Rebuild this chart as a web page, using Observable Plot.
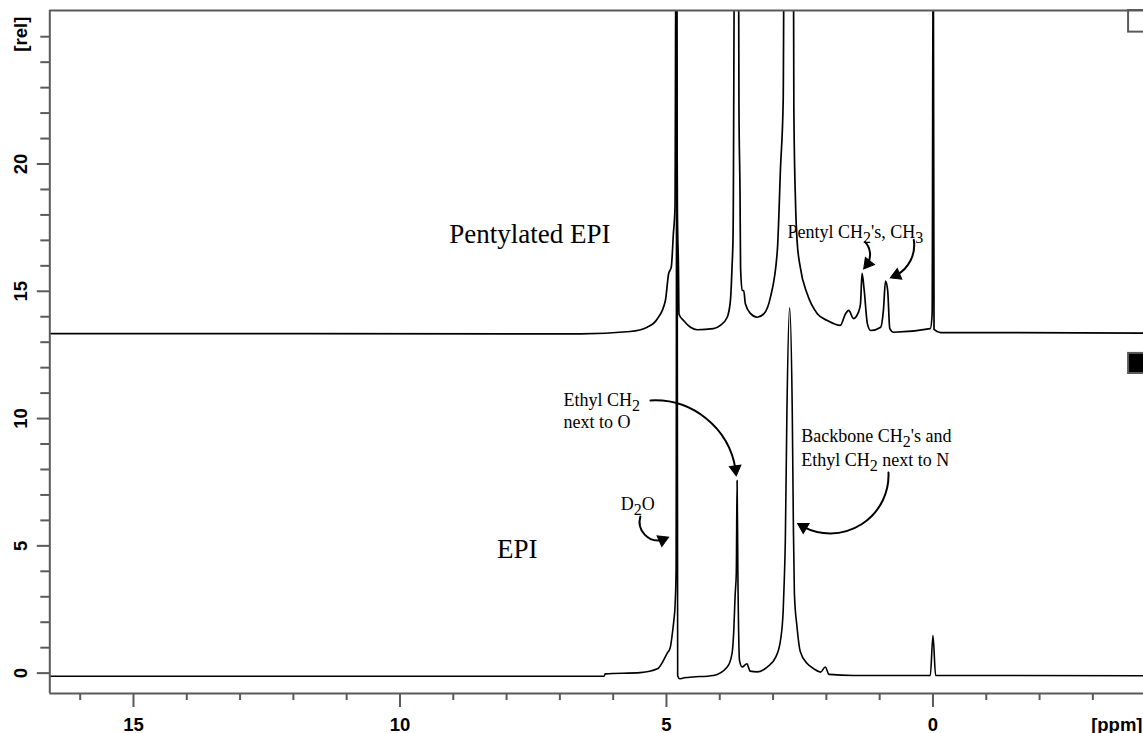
<!DOCTYPE html>
<html><head><meta charset="utf-8">
<script src="https://cdn.jsdelivr.net/npm/d3@7"></script>
<script src="https://cdn.jsdelivr.net/npm/@observablehq/plot@0.6"></script>
<style>
html,body{margin:0;padding:0;background:#fff;}
#chart svg{display:block;}
</style></head><body><div id="chart"></div>
<script>
// ---- Lower spectrum: EPI (chemical shift in ppm, intensity in rel units)
const epiPpm = [16.6, 6.17, 6.15, 5.49, 5.17, 4.99, 4.93, 4.89, 4.86, 4.84, 4.82, 4.805, 4.79, 4.75, 4.70, 4.60, 4.12, 3.86, 3.77, 3.74, 3.71, 3.69, 3.675, 3.66, 3.63, 3.58, 3.49, 3.43, 3.30, 3.11, 2.95, 2.86, 2.81, 2.79, 2.77, 2.74, 2.69, 2.64, 2.62, 2.60, 2.55, 2.49, 2.36, 2.24, 2.11, 2.02, 1.95, 1.49, 0.05, 0.0, -0.05, -3.95];
const epiRel = [-0.12, -0.12, -0.03, 0.02, 0.17, 0.77, 1.0, 1.55, 2.1, 2.6, 4.0, 30, -0.1, -0.22, -0.2, -0.17, -0.09, 0.24, 0.77, 1.56, 3.13, 3.92, 7.57, 3.92, 0.5, 0.24, 0.37, 0.08, 0.05, 0.24, 0.63, 1.3, 2.46, 3.64, 5.2, 10.3, 14.35, 10.3, 6.0, 3.13, 1.8, 0.85, 0.38, 0.18, 0.04, 0.24, -0.05, -0.09, -0.09, 1.48, -0.09, -0.10];

// ---- Upper spectrum: Pentylated EPI (offset trace)
const pentPpm = [16.6, 6.61, 5.68, 5.36, 5.17, 5.02, 4.96, 4.91, 4.87, 4.84, 4.82, 4.795, 4.775, 4.765, 4.68, 4.55, 4.42, 4.12, 3.99, 3.86, 3.80, 3.77, 3.75, 3.72, 3.65, 3.64, 3.62, 3.61, 3.58, 3.55, 3.52, 3.42, 3.30, 3.17, 3.05, 2.92, 2.86, 2.81, 2.79, 2.62, 2.61, 2.58, 2.55, 2.49, 2.36, 2.17, 1.98, 1.74, 1.64, 1.58, 1.49, 1.40, 1.36, 1.33, 1.29, 1.23, 1.17, 0.98, 0.93, 0.89, 0.85, 0.81, 0.74, 0.05, 0.015, -0.005, -0.02, -0.14, -3.95];
const pentRel = [13.34, 13.33, 13.42, 13.59, 13.92, 14.64, 15.69, 15.95, 17.27, 18.3, 30, 18.1, 15.9, 14.1, 13.85, 13.59, 13.49, 13.53, 13.66, 13.98, 14.64, 15.95, 17.27, 30, 30, 22.2, 18.84, 15.95, 15.03, 15.03, 14.51, 14.12, 13.98, 14.12, 14.76, 16.6, 19.87, 22.5, 30, 30, 22.2, 18.57, 17.0, 15.95, 14.9, 14.12, 13.85, 13.66, 14.12, 14.25, 13.93, 14.17, 14.5, 15.7, 15.03, 13.72, 13.46, 13.59, 14.25, 15.4, 15.03, 13.53, 13.39, 13.53, 14.12, 30, 13.5, 13.38, 13.36];

// ---- Axes
const xDomain = [16.57, -3.95];
const yDomain = [-0.8, 26.03];
const xMajorTicks = [15, 10, 5, 0];
const xMinorTicks = [16, 14, 13, 12, 11, 9, 8, 7, 6, 4, 3, 2, 1, -1, -2, -3];
const yMajorTicks = [0, 5, 10, 15, 20];
const yMinorTicks = [1, 2, 3, 4, 6, 7, 8, 9, 11, 12, 13, 14, 16, 17, 18, 19, 21, 22, 23, 24, 25];
const xUnit = "[ppm]", xUnitAt = -3.45;
const yUnit = "[rel]", yUnitAt = 25.1;

// ---- Trace names and their positions
const traceNames = ["Pentylated EPI", "EPI"];
const traceNamePpm = [6.05, 7.80];
const traceNameRel = [16.88, 4.54];

// ---- Peak annotations (one entry per line; _n marks a subscript digit)
const noteText = ["Pentyl CH_2's, CH_3", "Ethyl CH_2", "next to O", "D_2O", "Backbone CH_2's and", "Ethyl CH_2 next to N"];
const notePpm = [2.73, 6.93, 6.93, 5.86, 2.47, 2.47];
const noteRel = [17.10, 10.51, 9.61, 6.39, 9.06, 8.12];

// ---- Curved arrows from annotations to peaks
const arrowFromPpm = [5.30, 0.835, 5.49, 1.27, 0.36];
const arrowFromRel = [10.71, 7.88, 6.15, 16.93, 17.02];
const arrowToPpm = [3.69, 2.54, 4.96, 1.30, 0.80];
const arrowToRel = [7.75, 5.88, 5.34, 15.88, 15.53];
const arrowBend = [42, 60, -60, 35, 35];

// ---- Trace legend squares (TopSpin style markers)
const markerFill = ["none", "black"];
const markerRelTop = [26.03, 12.56];
const markerRelBottom = [25.18, 11.77];
const markerPpmLeft = -3.67, markerPpmRight = -4.3;

// ---- layout constants (pixels)
const W = 1143, H = 733, mL = 49.3, mR = 0, mT = 10, mB = 40;

const epi = epiPpm.map((p, i) => ({ppm: p, rel: epiRel[i]}));
const pent = pentPpm.map((p, i) => ({ppm: p, rel: pentRel[i]}));
const names = traceNames.map((t, i) => ({t, ppm: traceNamePpm[i], rel: traceNameRel[i]}));
const notes = noteText.map((t, i) => ({t, ppm: notePpm[i], rel: noteRel[i]}));
const markers = markerFill.map((f, i) => ({f, y1: markerRelTop[i], y2: markerRelBottom[i]}));

// arrow heads: compute screen-space end direction of each bent arrow
const kx = (W - mR - mL) / (xDomain[1] - xDomain[0]);
const ky = -(H - mB - mT) / (yDomain[1] - yDomain[0]);
const headR = 4.3;
const headTip = 2 * Math.sqrt((Math.PI * headR * headR) / (Math.sqrt(3) * 3));
const heads = arrowBend.map((b, i) => {
  const dx = (arrowToPpm[i] - arrowFromPpm[i]) * kx;
  const dy = (arrowToRel[i] - arrowFromRel[i]) * ky;
  const phi = Math.atan2(dy, dx) + b * Math.PI / 180;
  return {
    ppm: arrowToPpm[i] - headTip * Math.cos(phi) / kx,
    rel: arrowToRel[i] - headTip * Math.sin(phi) / ky,
    rot: phi * 180 / Math.PI + 90
  };
});

const frameColor = "#5a5a5a";
const sans = "Liberation Sans, Arial, sans-serif";
const serif = "Liberation Serif, Times New Roman, serif";
const tickFont = 18.5;

const arrowMarks = arrowBend.map((b, i) => Plot.arrow([i], {
  x1: () => arrowFromPpm[i], y1: () => arrowFromRel[i],
  x2: () => heads[i].ppm, y2: () => heads[i].rel,
  bend: b, stroke: "black", strokeWidth: 2, headLength: 0
}));

const chart = Plot.plot({
  width: W, height: H,
  marginLeft: mL, marginRight: mR, marginTop: mT, marginBottom: mB,
  x: {domain: xDomain, axis: null, label: null},
  y: {domain: yDomain, axis: null, label: null},
  style: {background: "white", color: "black"},
  marks: [
    Plot.rect(markers, {x1: markerPpmLeft, x2: markerPpmRight, y1: "y1", y2: "y2", fill: "f", stroke: frameColor, strokeWidth: 2}),
    Plot.line(pent, {x: "ppm", y: "rel", stroke: "black", strokeWidth: 1.7, curve: "monotone-x", clip: true}),
    Plot.line(epi, {x: "ppm", y: "rel", stroke: "black", strokeWidth: 1.6, curve: "monotone-x", clip: true}),
    Plot.ruleY([yDomain[0], yDomain[1]], {stroke: frameColor, strokeWidth: 2}),
    Plot.ruleX([xDomain[0]], {stroke: frameColor, strokeWidth: 2}),
    Plot.axisX({ticks: xMinorTicks, tickSize: 7, tickFormat: () => "", label: null, stroke: frameColor, strokeWidth: 2}),
    Plot.axisX({ticks: xMajorTicks, tickSize: 14, tickFormat: () => "", label: null, stroke: frameColor, strokeWidth: 2}),
    Plot.axisY({ticks: yMinorTicks, tickSize: 9, tickFormat: () => "", label: null, stroke: frameColor, strokeWidth: 2}),
    Plot.axisY({ticks: yMajorTicks, tickSize: 12.5, tickFormat: () => "", label: null, stroke: frameColor, strokeWidth: 2}),
    Plot.text(xMajorTicks, {x: d => d, text: d => String(d), frameAnchor: "bottom", dy: 37, lineAnchor: "bottom", fontSize: tickFont, fontWeight: "bold", fontFamily: sans, fill: "black"}),
    Plot.text([xUnit], {x: () => xUnitAt, text: d => d, frameAnchor: "bottom", dy: 37, lineAnchor: "bottom", fontSize: tickFont, fontWeight: "bold", fontFamily: sans, fill: "black"}),
    Plot.text(yMajorTicks, {y: d => d, text: d => String(d), frameAnchor: "left", textAnchor: "middle", lineAnchor: "middle", dx: -29, rotate: -90, fontSize: tickFont, fontWeight: "bold", fontFamily: sans, fill: "black"}),
    Plot.text([yUnit], {y: () => yUnitAt, text: d => d, frameAnchor: "left", textAnchor: "middle", lineAnchor: "middle", dx: -29, rotate: -90, fontSize: tickFont, fontWeight: "bold", fontFamily: sans, fill: "black"}),
    Plot.text(names, {x: "ppm", y: "rel", text: "t", lineAnchor: "bottom", fontSize: 27, fontFamily: serif, fill: "black", className: "names"}),
    Plot.text(notes, {x: "ppm", y: "rel", text: "t", textAnchor: "start", lineAnchor: "bottom", fontSize: 18, fontFamily: serif, fill: "black", className: "ann"}),
    ...arrowMarks,
    Plot.dot(heads, {x: "ppm", y: "rel", rotate: "rot", symbol: "triangle", r: headR, fill: "black", stroke: "black", strokeWidth: 1})
  ]
});

// trace names: first anchored at its end, second centred
const nameNodes = chart.querySelectorAll("g.names text");
if (nameNodes[0]) nameNodes[0].setAttribute("text-anchor", "end");
if (nameNodes[1]) nameNodes[1].setAttribute("text-anchor", "middle");

// subscripts
const NS = "http://www.w3.org/2000/svg";
chart.querySelectorAll("g.ann text").forEach(node => {
  const s = node.textContent;
  if (!s.includes("_")) return;
  node.textContent = "";
  const parts = s.split(/_(\d)/);
  let shifted = false;
  parts.forEach((p, i) => {
    if (!p) return;
    const t = document.createElementNS(NS, "tspan");
    t.textContent = p;
    if (i % 2 === 1) { t.setAttribute("dy", "5"); t.setAttribute("font-size", "16"); shifted = true; }
    else if (shifted) { t.setAttribute("dy", "-5"); shifted = false; }
    node.appendChild(t);
  });
});

document.getElementById("chart").appendChild(chart);
</script>
</body></html>
